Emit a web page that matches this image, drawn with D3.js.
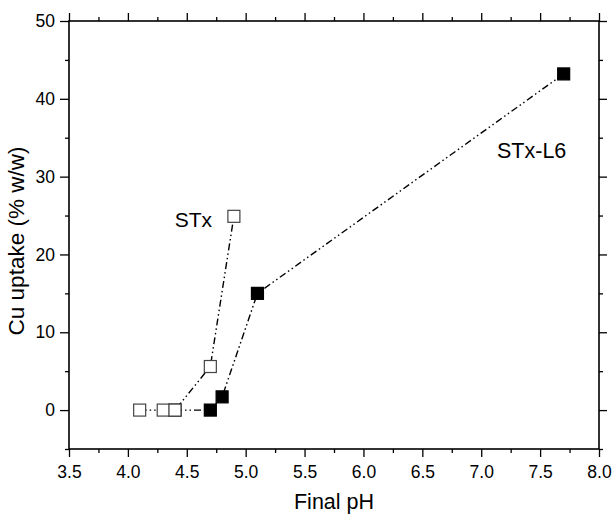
<!DOCTYPE html>
<html>
<head>
<meta charset="utf-8">
<script src="https://cdn.jsdelivr.net/npm/d3@7"></script>
<style>
  body { margin: 0; background: #fff; }
  svg text { font-family: "Liberation Sans", Arial, sans-serif; }
</style>
</head>
<body>
<div id="chart"></div>
<script>
// données
const stxPH = [4.1, 4.3, 4.4, 4.7, 4.9];
const stxCu = [0, 0, 0, 5.6, 24.9];
const l6PH = [4.4, 4.7, 4.8, 5.1, 7.7];
const l6Cu = [0, 0, 1.7, 15, 43.2];
const xTicks = [3.5, 4.0, 4.5, 5.0, 5.5, 6.0, 6.5, 7.0, 7.5, 8.0];
const yTicks = [0, 10, 20, 30, 40, 50];

const W = 613, H = 514;
const margin = {top: 21, right: 14, bottom: 65, left: 69};
const width = W - margin.left - margin.right;
const height = H - margin.top - margin.bottom;

const svg = d3.select("#chart").append("svg")
    .attr("width", W)
    .attr("height", H);
const g = svg.append("g")
    .attr("transform", `translate(${margin.left},${margin.top})`);

const x = d3.scaleLinear().domain([3.5, 8.0]).range([0, width]);
const y = d3.scaleLinear().domain([-5, 50]).range([height, 0]);

const xMinor = d3.range(3.75, 8.0, 0.5);
const yMinor = d3.range(-5, 50, 10);

function styleAxis(sel) {
    sel.attr("font-family", null).attr("font-size", null);
    sel.select(".domain").remove();
    sel.selectAll("line").attr("stroke", "#000").attr("stroke-width", 1.3);
    sel.selectAll("text").attr("fill", "#000").attr("font-size", 17.5);
}

// axes majeurs
g.append("g").attr("transform", `translate(0,${height})`)
    .call(d3.axisBottom(x).tickValues(xTicks).tickFormat(d3.format(".1f")).tickSize(8).tickPadding(9))
    .call(styleAxis);
g.append("g")
    .call(d3.axisLeft(y).tickValues(yTicks).tickFormat(d3.format("d")).tickSize(9).tickPadding(5))
    .call(styleAxis);
g.append("g")
    .call(d3.axisTop(x).tickValues(xTicks).tickFormat("").tickSize(8))
    .call(styleAxis);
g.append("g").attr("transform", `translate(${width},0)`)
    .call(d3.axisRight(y).tickValues(yTicks).tickFormat("").tickSize(8))
    .call(styleAxis);

// ticks mineurs
g.append("g").attr("transform", `translate(0,${height})`)
    .call(d3.axisBottom(x).tickValues(xMinor).tickFormat("").tickSize(4)).call(styleAxis);
g.append("g").call(d3.axisTop(x).tickValues(xMinor).tickFormat("").tickSize(4)).call(styleAxis);
g.append("g").call(d3.axisLeft(y).tickValues(yMinor).tickFormat("").tickSize(4)).call(styleAxis);
g.append("g").attr("transform", `translate(${width},0)`)
    .call(d3.axisRight(y).tickValues(yMinor).tickFormat("").tickSize(4)).call(styleAxis);

// cadre
g.append("rect")
    .attr("width", width).attr("height", height)
    .attr("fill", "none").attr("stroke", "#000").attr("stroke-width", 1.6);

const line = d3.line().x(d => x(d[0])).y(d => y(d[1]));
const dash = "7,3,1.5,3,1.5,3";
const sq = 12;

function drawSeries(ph, cu, fill) {
    const pts = ph.map((p, i) => [p, cu[i]]);
    g.append("path").datum(pts)
        .attr("d", line)
        .attr("fill", "none")
        .attr("stroke", "#000")
        .attr("stroke-width", 1.4)
        .attr("stroke-dasharray", dash);
    g.selectAll(null).data(pts).enter().append("rect")
        .attr("x", d => x(d[0]) - sq / 2)
        .attr("y", d => y(d[1]) - sq / 2)
        .attr("width", sq).attr("height", sq)
        .attr("fill", fill)
        .attr("stroke", fill === "#000" ? "#000" : "#444")
        .attr("stroke-width", 1.2);
}

drawSeries(l6PH, l6Cu, "#000");
drawSeries(stxPH, stxCu, "#fff");

// étiquettes des séries
g.append("text").attr("x", 212 - margin.left).attr("y", 226.5 - margin.top)
    .attr("text-anchor", "end").attr("font-size", 21).text("STx");
g.append("text").attr("x", 497 - margin.left).attr("y", 157.5 - margin.top)
    .attr("font-size", 21.5).text("STx-L6");

// titres des axes
svg.append("text")
    .attr("x", margin.left + width / 2).attr("y", 509)
    .attr("text-anchor", "middle").attr("font-size", 21.5).text("Final pH");
svg.append("text")
    .attr("transform", `translate(24,${241}) rotate(-90)`)
    .attr("text-anchor", "middle").attr("font-size", 22.5).text("Cu uptake (% w/w)");
</script>
</body>
</html>
